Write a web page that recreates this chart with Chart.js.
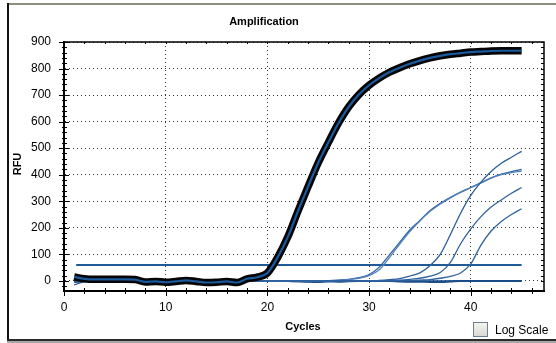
<!DOCTYPE html>
<html>
<head>
<meta charset="utf-8">
<script src="https://cdn.jsdelivr.net/npm/chart.js@4/dist/chart.umd.min.js"></script>
<style>
  html,body{margin:0;padding:0;background:#fff;}
  #wrap{position:relative;width:556px;height:343px;}
</style>
</head>
<body>
<div id="wrap"><canvas id="amp" width="556" height="343"></canvas></div>
<script>
// cycle numbers
const cycles = [1,2,3,4,5,6,7,8,9,10,11,12,13,14,15,16,17,18,19,20,21,22,23,24,25,26,27,28,29,30,31,32,33,34,35,36,37,38,39,40,41,42,43,44,45];

// RFU readings per well
const sampleMain = [15,8,6,6,6,6,5,-4,-2,-5,-2,2,-2,-6,-5,-2,-6,8,14,30,88,165,262,355,445,522,595,656,702,737,764,786,803,818,830,840,848,854,858,862,864,866,867,867,867];
const repA = [0,0,0,0,0,0,0,0,0,0,0,0,0,0,0,0,0,0,0,0,0,0,0,0,0,1,3,6,12,24,52,98,145,192,228,265,292,315,335,352,370,388,402,412,420];
const repB = [0,0,0,0,0,0,0,0,0,0,0,0,0,0,0,0,0,0,0,0,0,0,0,0,0,1,2,5,10,20,42,88,138,186,226,262,290,313,333,351,369,387,400,408,414];
const wellC = [0,0,0,0,0,0,0,0,0,0,0,0,0,0,0,0,0,0,0,0,0,0,0,0,0,0,0,0,0,0,2,5,9,18,30,58,100,175,255,322,372,412,443,466,488];
const wellD = [0,0,0,0,0,0,0,0,0,0,0,0,0,0,0,0,0,0,0,0,0,0,0,0,0,0,0,0,0,0,0,1,3,6,10,18,32,70,140,196,242,278,305,330,352];
const wellE = [0,0,0,0,0,0,0,0,0,0,0,0,0,0,0,0,0,0,0,0,0,0,0,0,0,0,0,0,0,0,0,0,0,1,3,5,10,17,30,64,135,188,224,250,272];
const negA = [-15,-3,0,0,0,0,0,-1,0,0,0,0,0,0,0,0,0,0,0,0,0,-2,-3,-3,-1,0,0,0,0,0,0,0,0,0,0,0,0,0,0,0,0,0,0,0,0];
const negB = [-4,-1,0,0,0,0,0,-3,-4,-4,-2,0,0,-3,-3,0,0,0,0,0,0,0,-1,-3,-4,-2,-3,-1,0,0,0,0,-2,-3,-3,-4,-4,-2,0,0,0,0,0,0,0];

// threshold
const thresholdX = [1.2, 45];
const thresholdY = [60, 60];

// axis ticks
const xTicks = [0,10,20,30,40];
const yTicks = [0,100,200,300,400,500,600,700,800,900];
const xMinorStep = 2;
const yMinorStep = 20;

const pts = arr => cycles.map((c,i)=>({x:c, y:arr[i]}));
const thin = (arr, color) => ({ data: pts(arr), borderColor: color, borderWidth: 1.3, pointRadius: 0, cubicInterpolationMode: 'monotone' });

const frame = {
  id: 'frame',
  beforeDraw(chart){
    const c = chart.ctx;
    c.save();
    c.fillStyle = '#fff';
    c.fillRect(0,0,chart.width,chart.height);
    c.restore();
  },
  afterDraw(chart){
    const c = chart.ctx, a = chart.chartArea;
    const xs = chart.scales.x, ys = chart.scales.y;
    c.save();
    // window edges
    c.fillStyle = '#8e8e7c'; c.fillRect(8, 3, 548, 2);
    c.fillStyle = '#111'; c.fillRect(7, 3, 2, 340);
    c.fillStyle = '#2a2a2a'; c.fillRect(7, 339, 549, 2);
    c.fillStyle = '#a8a8a8'; c.fillRect(7, 341, 549, 2);

    // plot frame top/right
    c.strokeStyle = '#000'; c.lineWidth = 1.5;
    c.beginPath();
    c.moveTo(a.left, a.top); c.lineTo(a.right, a.top); c.lineTo(a.right, a.bottom);
    c.stroke();

    // minor + major ticks
    c.lineWidth = 1;
    c.beginPath();
    for(let v = 0; v <= xs.max; v += xMinorStep){
      const px = Math.round(xs.getPixelForValue(v)) + 0.5;
      const major = xTicks.includes(v);
      c.moveTo(px, a.bottom - 3); c.lineTo(px, a.bottom + (major ? 5 : 3));
      c.moveTo(px, a.top); c.lineTo(px, a.top + 2);
    }
    for(let v = 0; v <= ys.max; v += yMinorStep){
      const py = Math.round(ys.getPixelForValue(v)) + 0.5;
      const major = yTicks.includes(v);
      c.moveTo(a.left - (major ? 5 : 2), py); c.lineTo(a.left + (major ? 5 : 3), py);
      c.moveTo(a.right - 3, py); c.lineTo(a.right, py);
    }
    for(let v = -20; v > ys.min; v -= yMinorStep){
      const py = Math.round(ys.getPixelForValue(v)) + 0.5;
      c.moveTo(a.left - 2, py); c.lineTo(a.left + 3, py);
    }
    c.stroke();

    // titles
    c.fillStyle = '#000';
    c.textAlign = 'center'; c.textBaseline = 'middle';
    c.font = 'bold 11px "Liberation Sans", Arial, sans-serif';
    c.fillText('Amplification', 264, 22);
    c.fillText('Cycles', 303, 327);
    c.save();
    c.translate(18, 164); c.rotate(-Math.PI/2);
    c.fillText('RFU', 0, 0);
    c.restore();

    // log scale checkbox
    const g = c.createLinearGradient(0, 323, 0, 337);
    g.addColorStop(0, '#f4f4f0'); g.addColorStop(1, '#d8d8d2');
    c.fillStyle = g; c.fillRect(474, 323, 13, 13);
    c.strokeStyle = '#6d7f93'; c.strokeRect(473.5, 322.5, 14, 14);
    c.fillStyle = '#000'; c.textAlign = 'left';
    c.font = '12px "Liberation Sans", Arial, sans-serif';
    c.fillText('Log Scale', 495, 331);
    c.restore();
  }
};

// lower "order" is painted on top
new Chart(document.getElementById('amp'), {
  type: 'line',
  data: {
    datasets: [
      { ...thin(negA, '#1d518c'), order: 9 },
      { ...thin(negB, '#1a4d88'), borderWidth: 2, order: 8 },
      { data: thresholdX.map((x,i)=>({x, y: thresholdY[i]})), borderColor: '#1e5a96', borderWidth: 2, pointRadius: 0, order: 7 },
      { ...thin(repA, '#2f62a0'), order: 6 },
      { ...thin(repB, '#5282ba'), order: 5 },
      { ...thin(wellC, '#2a5d9c'), order: 4 },
      { ...thin(wellD, '#2f62a0'), order: 3 },
      { ...thin(wellE, '#2f62a0'), order: 2 },
      { data: pts(sampleMain), borderColor: '#050505', borderWidth: 7.5, pointRadius: 0, cubicInterpolationMode: 'monotone', order: 1 },
      { data: pts(sampleMain), borderColor: '#1a5a9e', borderWidth: 2.2, pointRadius: 0, cubicInterpolationMode: 'monotone', order: 0 }
    ]
  },
  options: {
    responsive: false,
    animation: false,
    layout: { padding: { top: 42, right: 12, left: 0, bottom: 0 } },
    plugins: { legend: { display: false }, tooltip: { enabled: false } },
    scales: {
      x: {
        type: 'linear', min: 0, max: 47.2,
        afterBuildTicks: s => { s.ticks = xTicks.map(v => ({ value: v })); },
        afterFit: s => { s.height = 52; },
        grid: { color: '#333', lineWidth: 1, drawTicks: false },
        border: { color: '#000', width: 2, dash: [1, 3] },
        ticks: { color: '#000', padding: 9, maxRotation: 0, font: { family: '"Liberation Sans", Arial, sans-serif', size: 12 } }
      },
      y: {
        min: -38, max: 900,
        afterBuildTicks: s => { s.ticks = yTicks.map(v => ({ value: v })); },
        afterFit: s => { s.width = 64; },
        grid: { color: '#333', lineWidth: 1, drawTicks: false },
        border: { color: '#000', width: 2, dash: [1, 3] },
        ticks: { color: '#000', padding: 13, font: { family: '"Liberation Sans", Arial, sans-serif', size: 12 } }
      }
    }
  },
  plugins: [frame]
});
</script>
</body>
</html>
